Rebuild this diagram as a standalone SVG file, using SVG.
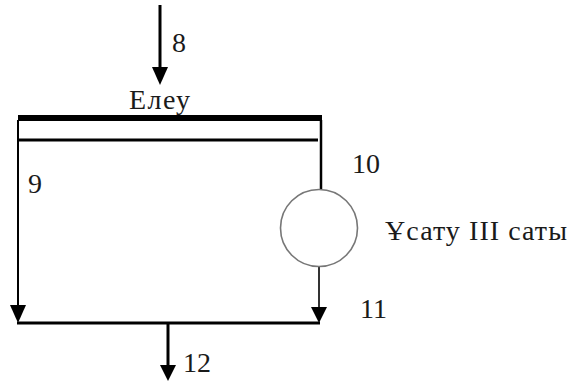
<svg xmlns="http://www.w3.org/2000/svg" width="572" height="385" viewBox="0 0 572 385">
<defs>
<style>
.t{font-family:'Liberation Serif','Times New Roman','DejaVu Serif',serif;font-size:28px;fill:#1a1a1a}
.ln{stroke:#000;fill:none}
</style>
</defs>
<rect width="572" height="385" fill="#fff"/>
<g id="connectors">
<line class="ln" x1="160" y1="5" x2="160" y2="68" stroke-width="3"/>
<path d="M152,67 L168,67 L160,85 Z" fill="#000"/>
<line class="ln" x1="18" y1="120" x2="18" y2="306" stroke-width="2"/>
<path d="M10,305 L26,305 L18,323 Z" fill="#000"/>
<line class="ln" x1="321" y1="120" x2="321" y2="189" stroke-width="2.5"/>
<line x1="319" y1="267" x2="319" y2="308" stroke="#333" stroke-width="2"/>
<path d="M311,307 L327,307 L319,323 Z" fill="#000"/>
<line class="ln" x1="17" y1="323" x2="320" y2="323" stroke-width="3"/>
<line class="ln" x1="168" y1="323" x2="168" y2="366" stroke-width="3"/>
<path d="M160,365 L176,365 L168,381 Z" fill="#000"/>
</g>
<g id="elevation">
<line class="ln" x1="18" y1="118" x2="322" y2="118" stroke-width="6"/>
<line class="ln" x1="18" y1="140" x2="318" y2="140" stroke-width="3"/>
<text class="t" x="129" y="109" textLength="61">Елеу</text>
</g>
<g id="crusher">
<circle cx="319" cy="228" r="38.5" fill="#fff" stroke="#777" stroke-width="1.6"/>
<text class="t" x="385" y="240" textLength="182">Ұсату ІІІ саты</text>
</g>
<g id="labels">
<text class="t" x="172" y="52">8</text>
<text class="t" x="28" y="193">9</text>
<text class="t" x="352" y="173">10</text>
<text class="t" x="360" y="318">11</text>
<text class="t" x="183" y="372">12</text>
</g>
</svg>
